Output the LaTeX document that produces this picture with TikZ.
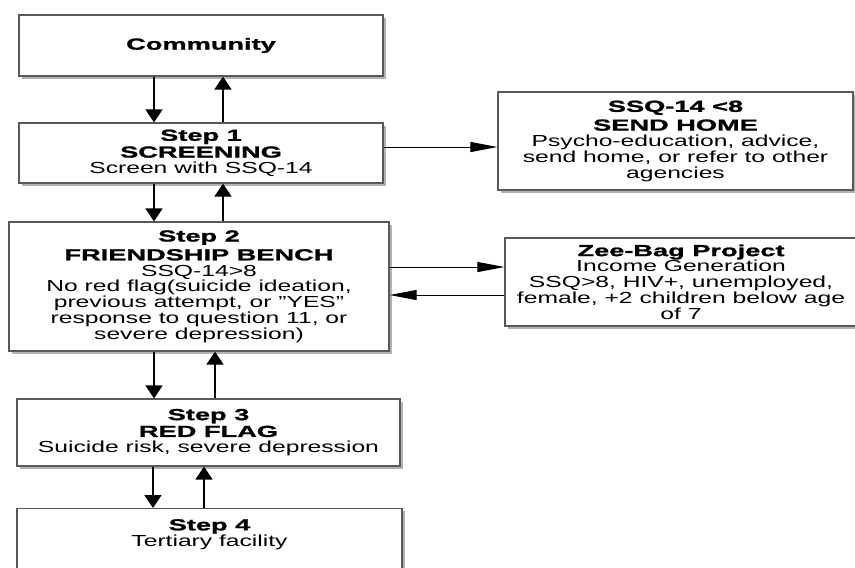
\documentclass[tikz,border=0pt]{standalone}
\usepackage{fontspec}
\setmainfont[FakeStretch=1.54]{Liberation Sans}
\newfontfamily\blk[FakeStretch=1.7,FakeBold=1.4]{Liberation Sans Bold}
\usetikzlibrary{arrows.meta,shadows,positioning}
\tikzset{
  box/.style={draw=black!65, line width=1.2pt, fill=white, align=center, inner sep=0pt,
    drop shadow={shadow xshift=2.5pt, shadow yshift=-2.5pt, fill=black!50, opacity=0.6}},
  varr/.style={-{Triangle[length=13pt,width=17pt]}, line width=1.7pt},
  harr/.style={-{Triangle[length=27pt,width=10pt]}, line width=1pt},
  every node/.style={font=\fontsize{16}{15.8}\selectfont}
}
\begin{document}
\begin{tikzpicture}[x=1pt,y=-1pt]
\clip (0,0) rectangle (855,568);
\fill[white] (0,0) rectangle (855,568);

\node[box, minimum width=364pt, minimum height=61pt] (comm) at (201,45.5) {{\blk Community}};
\node[box, minimum width=364pt, minimum height=60pt] (s1) at (201,153)
  {{\blk Step 1}\\[1pt]{\blk SCREENING}\\Screen with SSQ-14};
\node[box, minimum width=380pt, minimum height=129pt] (s2) at (199,286.5)
  {{\blk Step 2}\\[3pt]{\blk FRIENDSHIP BENCH}\\SSQ-14>8\\No red flag(suicide ideation,\\previous attempt, or "YES"\\response to question 11, or\\severe depression)};
\node[box, minimum width=383pt, minimum height=67pt] (s3) at (208.5,432.5)
  {{\blk Step 3}\\[1pt]{\blk RED FLAG}\\Suicide risk, severe depression};
\node[box, minimum width=385pt, minimum height=90pt, anchor=north] (s4) at (209.5,508) {};
\node[align=center, inner sep=0pt, anchor=north] (s4t) at (209.5,519) {{\blk Step 4}\\Tertiary facility};
\node[box, minimum width=355pt, minimum height=98pt] (home) at (675.5,141)
  {{\blk SSQ-14 <8}\\[3pt]{\blk SEND HOME}\\Psycho-education, advice,\\send home, or refer to other\\agencies};
\node[box, minimum width=352pt, minimum height=88pt] (zee) at (681,282)
  {{\blk Zee-Bag Project}\\Income Generation\\SSQ>8, HIV+, unemployed,\\female, +2 children below age\\of 7};

\coordinate (xa) at (154,0);
\coordinate (xb) at (223,0);
\coordinate (xc) at (215,0);
\coordinate (xd) at (153,0);
\coordinate (xe) at (204,0);
\coordinate (ya) at (0,147);
\coordinate (yb) at (0,267);
\coordinate (yc) at (0,295);

\draw[varr] (comm.south -| xa) -- (s1.north -| xa);
\draw[varr] (s1.north -| xb) -- (comm.south -| xb);
\draw[varr] (s1.south -| xa) -- (s2.north -| xa);
\draw[varr] (s2.north -| xb) -- (s1.south -| xb);
\draw[varr] (s2.south -| xa) -- (s3.north -| xa);
\draw[varr] (s3.north -| xc) -- (s2.south -| xc);
\draw[varr] (s3.south -| xd) -- (s4.north -| xd);
\draw[varr] (s4.north -| xe) -- (s3.south -| xe);

\draw[harr] (s1.east |- ya) -- (home.west |- ya);
\draw[harr] (s2.east |- yb) -- (zee.west |- yb);
\draw[harr] (zee.west |- yc) -- (s2.east |- yc);
\end{tikzpicture}
\end{document}
